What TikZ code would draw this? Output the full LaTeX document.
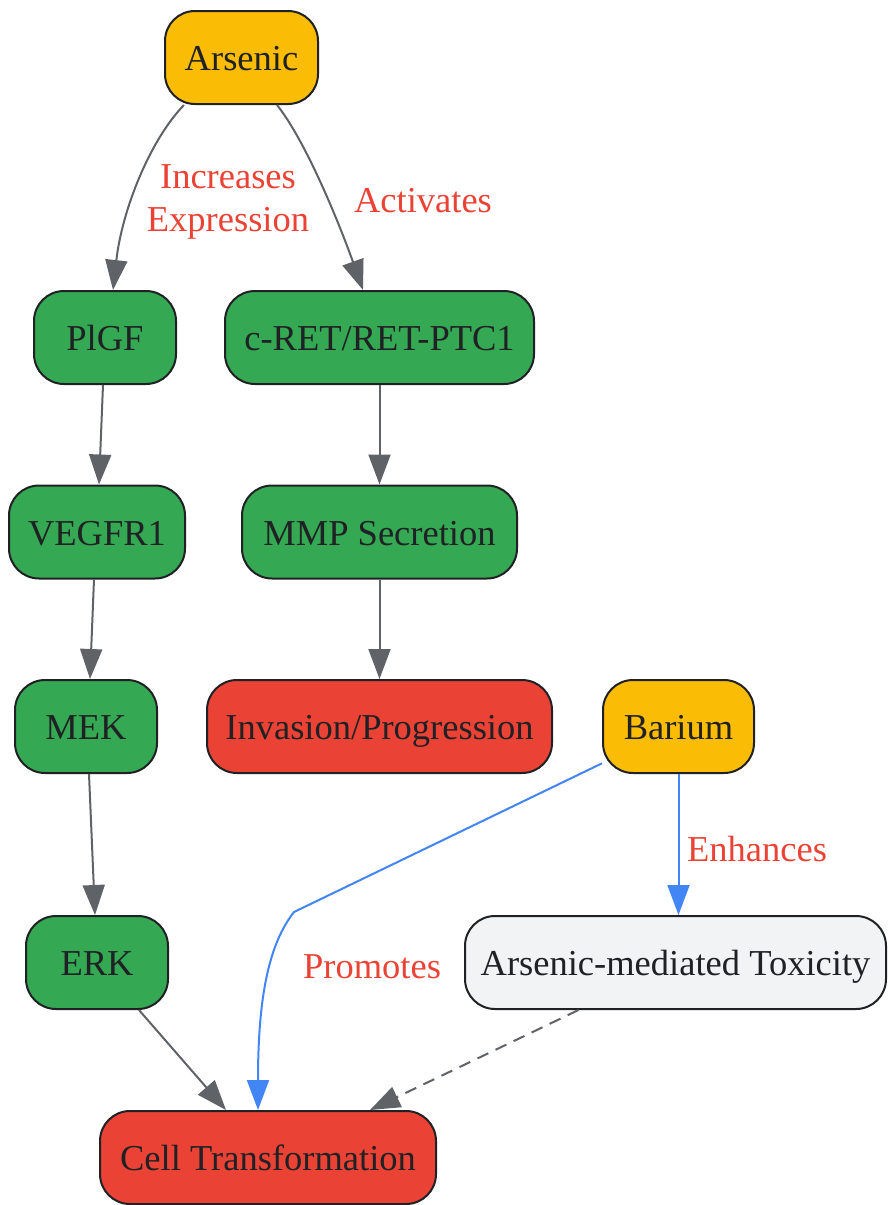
\documentclass[tikz,border=0pt]{standalone}
\usepackage{fontspec}
\setmainfont{Liberation Serif}
\usetikzlibrary{arrows.meta}
\definecolor{ayellow}{HTML}{FBBC05}
\definecolor{agreen}{HTML}{34A853}
\definecolor{ared}{HTML}{EA4335}
\definecolor{agray}{HTML}{F1F3F4}
\definecolor{ablue}{HTML}{4285F4}
\definecolor{aedge}{HTML}{5F6368}
\definecolor{atext}{HTML}{202124}
\begin{document}
\begin{tikzpicture}[x=1pt,y=-1pt,
  basebox/.style={draw=atext, line width=2pt, rounded corners=30pt, inner sep=0pt,
    minimum height=93pt, text height=27pt, text depth=1pt,
    font=\fontsize{36.5}{44}\selectfont, text=atext},
  srcbox/.style={basebox, fill=ayellow},
  midbox/.style={basebox, fill=agreen},
  outbox/.style={basebox, fill=ared},
  modbox/.style={basebox, fill=agray},
  lblnode/.style={inner sep=0pt, text=ared, align=center, font=\fontsize{36.5}{43}\selectfont},
  tipstyle/.style={-{Triangle[length=30pt,width=22pt]}},
  gedge/.style={tipstyle, draw=aedge, line width=2pt},
  bedge/.style={tipstyle, draw=ablue, line width=2pt},
  dedge/.style={tipstyle, draw=aedge, line width=2pt, dash pattern=on 12pt off 8pt}]
\useasboundingbox (0,0) rectangle (887,1205);
\node[srcbox, minimum width=153pt] (ars) at (241.5,57.5) {Arsenic};
\node[midbox, minimum width=142pt] (plgf) at (105,337.5) {PlGF};
\node[midbox, minimum width=309pt] (cret) at (379.5,337.5) {c-RET/RET-PTC1};
\node[midbox, minimum width=176pt] (vegfr) at (97,532) {VEGFR1};
\node[midbox, minimum width=275pt] (mmp) at (379.5,532) {MMP Secretion};
\node[midbox, minimum width=142pt] (mek) at (86,726.5) {MEK};
\node[outbox, minimum width=345pt] (inv) at (379.5,726.5) {Invasion/Progression};
\node[srcbox, minimum width=151pt] (bar) at (678.5,726.5) {Barium};
\node[midbox, minimum width=142pt] (erk) at (97,962.5) {ERK};
\node[modbox, minimum width=421pt] (tox) at (675.5,962.5) {Arsenic-mediated Toxicity};
\node[outbox, minimum width=336pt] (cell) at (268,1157.5) {Cell Transformation};

\node[lblnode] (l1) at (228,202) {Increases\\Expression};
\node[lblnode] (l2) at (423,201) {Activates};
\node[lblnode] (l3) at (757,849) {Enhances};
\node[lblnode] (l4) at (372,967) {Promotes};

\coordinate (bend) at (294,912);

\draw[gedge] ([xshift=-57.5pt]ars.south) .. controls (150,140) and (122,210) .. ([xshift=8pt]plgf.north);
\draw[gedge] ([xshift=35.5pt]ars.south) .. controls (305,140) and (338,220) .. ([xshift=-16.5pt]cret.north);
\draw[gedge] ([xshift=-2pt]plgf.south) -- ([xshift=2pt]vegfr.north);
\draw[gedge] (cret.south) -- (mmp.north);
\draw[gedge] ([xshift=-3pt]vegfr.south) -- ([xshift=4pt]mek.north);
\draw[gedge] (mmp.south) -- (inv.north);
\draw[gedge] ([xshift=3pt]mek.south) -- ([xshift=-2pt]erk.north);
\draw[gedge] ([xshift=42pt]erk.south) -- ([xshift=-42pt]cell.north);
\draw[bedge] (bar) -- (bend) .. controls (268,945) and (258,1000) .. ([xshift=-10pt]cell.north);
\draw[bedge] (bar.south) -- (tox.north -| bar.south);
\draw[dedge] ([xshift=-97pt]tox.south) -- ([xshift=102pt]cell.north);
\end{tikzpicture}
\end{document}
